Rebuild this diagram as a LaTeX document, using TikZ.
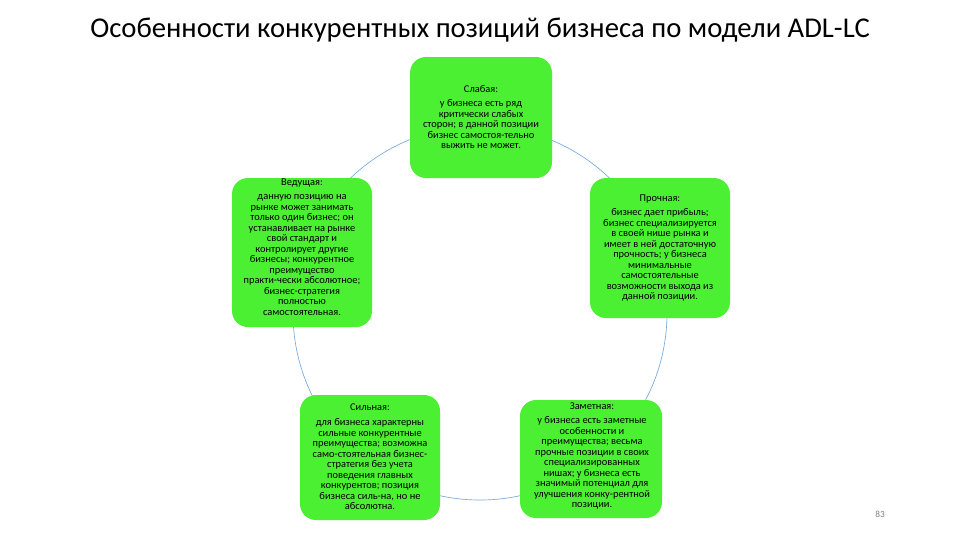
\documentclass[tikz,border=0pt]{standalone}
\usepackage{fontspec}
\setmainfont{Carlito}
\begin{document}
\begin{tikzpicture}[x=0.75pt,y=-0.75pt,
  txt/.style={align=center, font=\fontsize{7.8}{7.9}\selectfont, inner sep=0pt}]
\definecolor{boxg}{HTML}{4CF032}
\useasboundingbox (0,0) rectangle (960,540);
\draw[color={rgb,255:red,120;green,170;blue,215}, line width=0.5pt] (480,313) circle[radius=187*0.75pt];
\node[font=\fontsize{21.5}{24}\selectfont] (title) at (480,30) {Особенности конкурентных позиций бизнеса по модели ADL-LC};
\fill[boxg, rounded corners=12pt] (410,57) rectangle (552,178);
\fill[boxg, rounded corners=12pt] (232,178) rectangle (372,327);
\fill[boxg, rounded corners=12pt] (590,178) rectangle (730,318);
\fill[boxg, rounded corners=12pt] (300,395) rectangle (440,520);
\fill[boxg, rounded corners=12pt] (520,400) rectangle (662,518);
\node[txt] (weak) at (481,117) {Слабая:\\[3pt] у бизнеса есть ряд\\ критически слабых\\ сторон; в данной позиции\\ бизнес самостоя-тельно\\ выжить не может.};
\node[txt] (lead) at (302,247) {Ведущая:\\[3pt] данную позицию на\\ рынке может занимать\\ только один бизнес; он\\ устанавливает на рынке\\ свой стандарт и\\ контролирует другие\\ бизнесы; конкурентное\\ преимущество\\ практи-чески абсолютное;\\ бизнес-стратегия\\ полностью\\ самостоятельная.};
\node[txt] (strong2) at (660,248) {Прочная:\\[3pt] бизнес дает прибыль;\\ бизнес специализируется\\ в своей нише рынка и\\ имеет в ней достаточную\\ прочность; у бизнеса\\ минимальные\\ самостоятельные\\ возможности выхода из\\ данной позиции.};
\node[txt] (strong) at (370,457) {Сильная:\\[3pt] для бизнеса характерны\\ сильные конкурентные\\ преимущества; возможна\\ само-стоятельная бизнес-\\ стратегия без учета\\ поведения главных\\ конкурентов; позиция\\ бизнеса силь-на, но не\\ абсолютна.};
\node[txt] (notable) at (592,456) {Заметная:\\[3pt] у бизнеса есть заметные\\ особенности и\\ преимущества; весьма\\ прочные позиции в своих\\ специализированных\\ нишах; у бизнеса есть\\ значимый потенциал для\\ улучшения конку-рентной\\ позиции.};
\node[font=\fontsize{7}{8}\selectfont, color=gray] (num) at (880,514) {83};
\end{tikzpicture}
\end{document}
